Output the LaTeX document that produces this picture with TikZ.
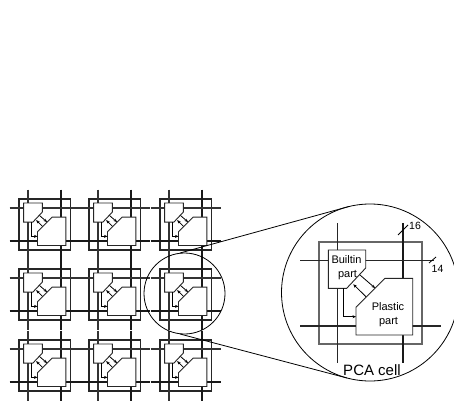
\documentclass[tikz,border=0pt]{standalone}
\usepackage{fontspec}
\setmainfont{Liberation Sans}
\usetikzlibrary{arrows.meta}
\tikzset{
  wire/.style={line width=1pt,black!85},
  heavy/.style={line width=1.5pt,black!85},
  heavyv/.style={line width=1.2pt,black!90},
  cellframe/.style={line width=1.1pt,black!60},
  partshape/.style={draw=black!85,line width=.9pt,fill=white},
  tiny tip/.style={-{Stealth[length=3.5pt,width=3pt]},line width=.8pt,black},
  lens/.style={draw=black,line width=.8pt},
  bus/.style={line width=.8pt,black},
  lbl/.style={inner sep=0pt,black,font=\fontsize{11}{12}\selectfont},
  small cell/.style={
    wire/.style={line width=1.15pt,black!80},
    heavy/.style={line width=1.15pt,black!90},
    heavyv/.style={line width=1.15pt,black!90},
    cellframe/.style={line width=1.1pt,black!85},
    partshape/.style={draw=black!85,line width=.9pt,fill=white}
  }
}
\newcommand{\pcacell}[1]{%
  \draw[cellframe] (0,0) rectangle (103,102);
  \draw[wire] (18,-19) -- (18,121);
  \draw[heavyv] (84,-19) -- (84,121);
  \draw[wire] (-19,18) -- (#1,18);
  \draw[heavy] (-19,84) -- (122,84);
  \filldraw[partshape] (9.3,8) -- (46.7,8) -- (46.7,26) -- (27.7,46.3) -- (9.3,46.3) -- cycle;
  \filldraw[partshape] (66,36.3) -- (93.7,36.3) -- (93.7,93) -- (37,93) -- (37,65.3) -- cycle;
  \draw[tiny tip] (41,33) -- (56,46);
  \draw[tiny tip] (47,54.7) -- (34.3,42.3);
  \draw[tiny tip] (24.3,46.3) -- (24.3,74.7) -- (37,74.7);
}
\begin{document}
\begin{tikzpicture}[x=1pt,y=-1pt]
\useasboundingbox (0,0) rectangle (454,403);
\foreach \fx in {19,89,160}
  \foreach \fy in {199,269,340}
    \begin{scope}[shift={(\fx,\fy)},scale=.5,small cell]
      \pcacell{122}
    \end{scope};
\node[circle,lens,minimum size=81pt,inner sep=0pt] (lensS) at (184.5,293.5) {};
\begin{scope}
  \clip (0,0) rectangle (454,403);
  \node[circle,lens,minimum size=177pt,inner sep=0pt] (lensB) at (370,292.5) {};
\end{scope}
\coordinate (topS) at (180,253);
\coordinate (topB) at (349,206.5);
\coordinate (botS) at (180,334);
\coordinate (botB) at (347,378);
\draw[lens] (topS) -- (topB);
\draw[lens] (botS) -- (botB);
\begin{scope}[shift={(319,242)}]
  \pcacell{115}
\end{scope}
\node[lbl] (tBuiltin) at (346.5,260) {Builtin};
\node[lbl] (tPart) at (347.5,275) {part};
\node[lbl] (tPlastic) at (388,307) {Plastic};
\node[lbl] (tPart2) at (388.5,322) {part};
\node[lbl,font=\fontsize{15}{16}\selectfont] (tPCA) at (372,370.5) {PCA cell};
\coordinate (s1) at (398,235); \coordinate (s2) at (408,225);
\coordinate (s3) at (429,263); \coordinate (s4) at (436,257);
\draw[bus] (s1) -- (s2);
\draw[bus] (s3) -- (s4);
\node[lbl,font=\fontsize{10.5}{12}\selectfont] (t16) at (415,226) {16};
\node[lbl,font=\fontsize{10.5}{12}\selectfont] (t14) at (437.5,269) {14};
\end{tikzpicture}
\end{document}
